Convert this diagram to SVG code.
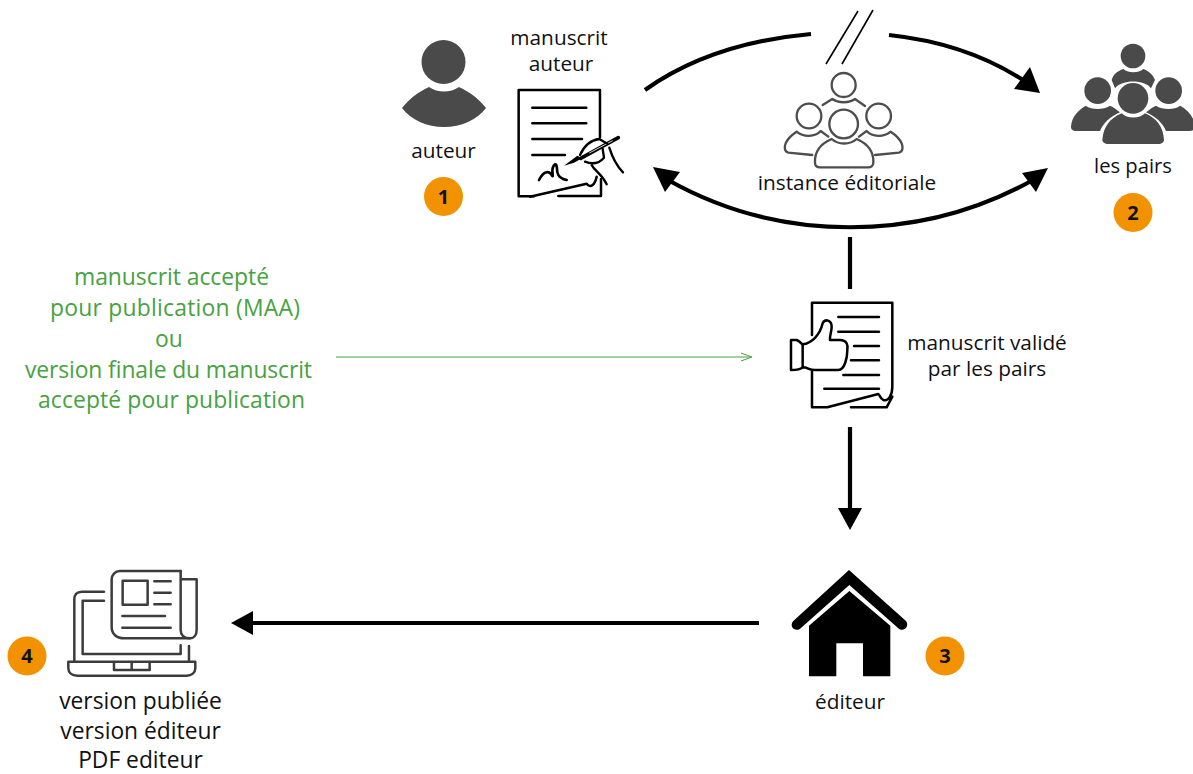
<svg xmlns="http://www.w3.org/2000/svg" width="1193" height="774" viewBox="0 0 1193 774">
<style>
text{font-family:"Open Sans","Noto Sans","Liberation Sans",sans-serif;text-anchor:middle;fill:#111}
.l{font-size:20.800px}
.g{font-size:22.900px;fill:#47a23f}
.b{font-size:22.800px}
.n{font-size:20px;font-weight:700}
.badge{fill:#f39200}
.conn{fill:none;stroke:#000;stroke-width:4.200}
.ink{fill:none;stroke:#000;stroke-linecap:round;stroke-linejoin:round}
.grey{fill:none;stroke:#4d4d4d;stroke-linecap:round;stroke-linejoin:round}
.lap{fill:none;stroke:#3c3c3c;stroke-width:7.500;stroke-linecap:round;stroke-linejoin:round}
.dark{fill:#4a4a4a}
.head{fill:#000}
</style>
<rect width="1193" height="774" fill="#fff"/>
<g id="connectors">
<path class="conn" d="M645 90C690 58 745 40 811 34"/>
<path class="conn" d="M889 35C945 41 990 58 1026 82"/>
<polygon class="head" points="1040,93 1014,89 1030,67"/>
<path class="conn" d="M668 180C780 243 920 243 1033 180"/>
<polygon class="head" points="653,167 680,172 665,192"/>
<polygon class="head" points="1048,168 1022,173 1036,192"/>
<line x1="826" y1="64" x2="858" y2="11" stroke="#000" stroke-width="1.600"/>
<line x1="842" y1="64" x2="873" y2="10" stroke="#000" stroke-width="1.600"/>
<line class="conn" x1="850" y1="237" x2="850" y2="289"/>
<line class="conn" x1="850" y1="427" x2="850" y2="512"/>
<polygon class="head" points="850,530 838,508 862,508"/>
<line class="conn" x1="759" y1="623" x2="250" y2="623"/>
<polygon class="head" points="231,623 253,611 253,635"/>
<line x1="336" y1="357" x2="750" y2="357" stroke="#47a23f" stroke-width="1"/>
<path d="M741 353L752 357L741 361" fill="none" stroke="#47a23f" stroke-width="1"/>
</g>
<g id="auteur">
<circle class="dark" cx="443.500" cy="62" r="22"/>
<path class="dark" d="M402 108C409 99 418 92 429 87C438 93 450 93 459 87C470 92 479 99 486 108C477 120 461 127 444 127C427 127 411 120 402 108Z"/>
<text class="l" x="443.500" y="158">auteur</text>
<circle class="badge" cx="443.500" cy="196.500" r="19.500"/>
<text class="n" x="443.500" y="203.500">1</text>
</g>
<g id="manuscrit-auteur">
<text class="l" x="559" y="45">manuscrit</text>
<text class="l" x="561" y="71">auteur</text>
<g transform="translate(390 0) scale(.3333)">
<path class="ink" stroke-width="7.500" d="M630 412V270H386V589H432"/>
<path class="ink" stroke-width="7.500" d="M427 323H589M427 370H589M427 417H576M427 465H525"/>
</g>
<g transform="translate(530 125) scale(.3333)">
<path class="ink" stroke-width="7.500" d="M0 215L170 176C182 192 195 178 200 155M85 213H213V162"/>
<path class="ink" stroke-width="8" d="M27 165C40 140 55 135 65 150C75 165 58 130 75 118C90 118 65 155 110 165"/>
<path d="M102 122L142 92L156 100L132 113Z" fill="#000"/>
<path class="ink" stroke-width="11" d="M152 100L265 38"/>
<path d="M178 84L248 47" fill="none" stroke="#fff" stroke-width="2.500"/>
<path class="ink" stroke-width="7" d="M150 90C160 68 175 46 208 42L232 56M238 68C248 100 262 125 279 142M165 110C185 118 205 118 222 98L218 72M185 120C195 140 215 145 230 178"/>
</g>
</g>
<g id="instance-editoriale">
<g transform="translate(775 60) scale(.3333)" class="grey" stroke-width="7">
<circle cx="206" cy="75" r="36"/>
<circle cx="102" cy="168" r="37"/>
<circle cx="311" cy="168" r="37"/>
<circle cx="206" cy="192" r="43"/>
<path d="M143 135L172 117C190 130 222 130 240 117L270 138"/>
<path d="M112 285L40 278C28 275 27 262 32 250C38 235 50 225 65 215C85 232 120 232 137 213L160 230"/>
<path d="M300 285L372 278C384 275 385 262 380 250C374 235 362 225 347 215C327 232 292 232 275 213L252 230"/>
<path d="M120 308C118 272 140 250 170 237C190 255 225 255 245 237C275 250 297 272 295 308C295 318 287 322 280 322H135C125 322 120 318 120 308Z"/>
</g>
<text class="l" x="847" y="190">instance éditoriale</text>
</g>
<g id="les-pairs">
<g transform="translate(1065 35) scale(.3333)" class="dark">
<circle cx="204" cy="63" r="37"/>
<circle cx="98" cy="167" r="40"/>
<circle cx="311" cy="167" r="40"/>
<circle cx="204" cy="190" r="46"/>
<path d="M140 135C145 115 165 105 175 102C190 115 220 115 235 102C250 108 265 120 270 135L258 160C240 133 170 133 150 160Z"/>
<path d="M18 275C20 245 40 225 62 212C80 225 115 225 135 212C145 215 155 225 165 232C135 245 115 265 105 288H35C22 288 18 282 18 275Z"/>
<path d="M390 275C388 245 368 225 346 212C328 225 293 225 273 212C263 215 253 225 243 232C273 245 293 265 303 288H373C386 288 390 282 390 275Z"/>
<path d="M112 315C115 275 135 250 170 235C185 252 225 252 240 235C275 250 295 275 297 315C297 322 290 327 280 327H130C120 327 112 322 112 315Z"/>
</g>
<text class="l" x="1133" y="173" style="font-size:20.200px">les pairs</text>
<circle class="badge" cx="1133" cy="212.500" r="19.500"/>
<text class="n" x="1133" y="219.500">2</text>
</g>
<g id="manuscrit-valide">
<g transform="translate(740 290) scale(.3333)">
<path class="ink" stroke-width="7.500" d="M216 135V38H457V290C457 315 445 335 430 330C420 325 420 315 415 312L262 352H216V245M333 352H440L457 320"/>
<path class="ink" stroke-width="7.500" d="M295 81H417M295 125H417M342 168H417M333 211H417M310 255H417M253 296H417"/>
<path class="ink" stroke-width="7.500" d="M153 150H170C182 155 187 165 188 163C215 160 240 135 248 100C255 85 275 90 275 110C275 125 268 140 270 150H300C320 150 325 165 322 180C322 200 315 240 295 240H225C205 240 205 232 188 232C185 235 172 240 153 240Z"/>
<path class="ink" stroke-width="7.500" d="M188 163V232"/>
</g>
<text class="l" x="987" y="350">manuscrit validé</text>
<text class="l" x="987" y="376">par les pairs</text>
</g>
<g id="note-maa">
<text class="g" x="171.500" y="285" textLength="195">manuscrit accepté</text>
<text class="g" x="175" y="316" textLength="250">pour publication (MAA)</text>
<text class="g" x="169" y="347">ou</text>
<text class="g" x="168.500" y="378" textLength="287">version finale du manuscrit</text>
<text class="g" x="171.500" y="408" textLength="267">accepté pour publication</text>
</g>
<g id="editeur">
<g transform="translate(770 560) scale(.3333)" fill="#000">
<path d="M117 197L238 93L361 197V349H279V250H199V349H117Z"/>
<path d="M237 30L408 183C420 200 400 218 385 205L238 75L92 205C77 218 55 200 70 183Z"/>
</g>
<text class="l" x="850" y="709">éditeur</text>
<circle class="badge" cx="945" cy="656" r="19.500"/>
<text class="n" x="945" y="663">3</text>
</g>
<g id="version-publiee">
<g transform="translate(0 560) scale(.3333)">
<g class="lap">
<path d="M312 95H245C230 95 223 105 223 118V305"/>
<path d="M312 122H248V282H542V256"/>
<path d="M567 258V305"/>
<path d="M205 305H586V325C586 338 575 347 560 347H232C215 347 205 338 205 325Z"/>
<path d="M342 308V330H449V308M395 308V330"/>
<path d="M542 33H360C345 33 335 45 335 58V200C335 222 350 235 372 235H570C582 235 590 225 590 210V58H545"/>
<path d="M542 33V210C542 225 552 235 570 235"/>
<rect x="368" y="62" width="75" height="72"/>
<path d="M463 64H512M463 98H512M463 133H512M367 168H495M367 203H512"/>
</g>
</g>
<text class="b" x="140.500" y="709">version publiée</text>
<text class="b" x="140.500" y="739">version éditeur</text>
<text class="b" x="140.500" y="768">PDF editeur</text>
<circle class="badge" cx="27" cy="656" r="19.500"/>
<text class="n" x="27" y="663">4</text>
</g>
</svg>
